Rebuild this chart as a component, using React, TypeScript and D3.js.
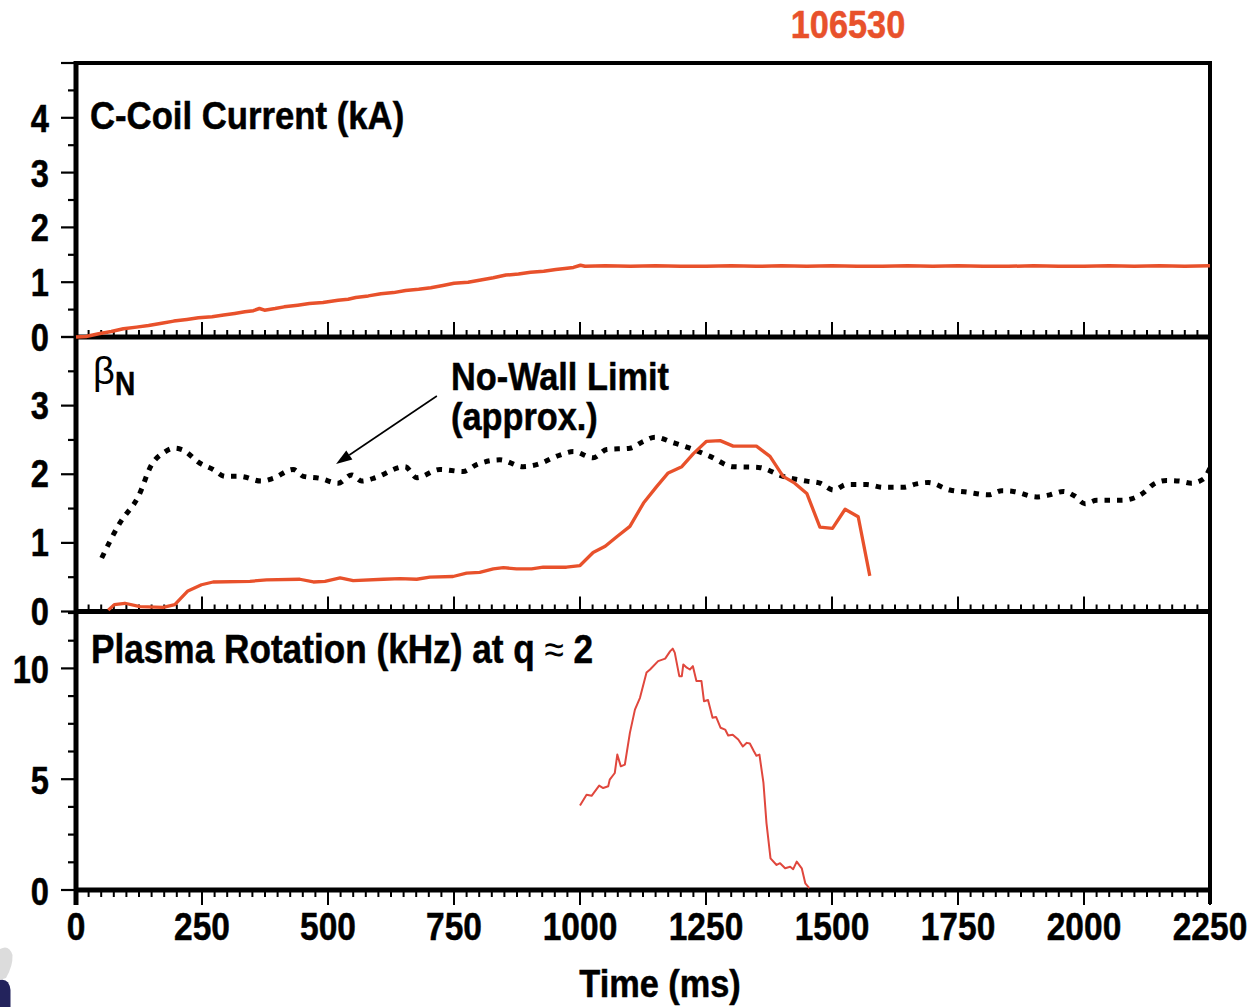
import React from 'react';
import * as d3 from 'd3';

// ---------------- data ----------------
const shotNumber = '106530';
const xTickValues = [0, 250, 500, 750, 1000, 1250, 1500, 1750, 2000, 2250];
const coilTickLabels = [0, 1, 2, 3, 4];
const betaTickLabels = [0, 1, 2, 3];
const rotTickLabels = [0, 5, 10];

// C-coil current (kA) vs time (ms)
const coilData: [number, number][] = [
  [0, 0.0], [20, 0.01], [45, 0.06], [70, 0.1], [94, 0.15], [120, 0.18], [144, 0.21], [170, 0.25],
  [194, 0.29], [220, 0.32], [243, 0.35], [270, 0.37], [293, 0.4], [315, 0.43], [335, 0.46], [352, 0.48],
  [364, 0.52], [374, 0.49], [395, 0.52], [413, 0.55], [440, 0.58], [463, 0.61], [490, 0.63], [520, 0.67],
  [540, 0.69], [555, 0.72], [580, 0.75], [605, 0.79], [630, 0.81], [654, 0.85], [680, 0.87], [704, 0.9],
  [728, 0.94], [750, 0.98], [778, 1.0], [803, 1.04], [828, 1.08], [853, 1.13], [878, 1.15], [902, 1.18],
  [928, 1.2], [952, 1.23], [970, 1.25], [987, 1.27], [1001, 1.31], [1010, 1.29], [1050, 1.3], [1100, 1.29],
  [1150, 1.3], [1200, 1.29], [1250, 1.29], [1300, 1.3], [1350, 1.29], [1400, 1.3], [1450, 1.29], [1500, 1.3],
  [1550, 1.29], [1600, 1.29], [1650, 1.3], [1700, 1.29], [1750, 1.3], [1800, 1.29], [1850, 1.29], [1900, 1.3],
  [1950, 1.29], [2000, 1.29], [2050, 1.3], [2100, 1.29], [2150, 1.3], [2200, 1.29], [2250, 1.3],
];

// beta_N measured
const betaNData: [number, number][] = [
  [64, 0.02], [76, 0.1], [97, 0.12], [127, 0.07], [173, 0.06], [196, 0.1], [222, 0.3], [249, 0.39],
  [272, 0.43], [345, 0.44], [378, 0.46], [444, 0.47], [471, 0.43], [494, 0.44], [524, 0.49], [550, 0.45],
  [610, 0.47], [643, 0.48], [676, 0.47], [702, 0.5], [748, 0.51], [775, 0.56], [801, 0.57], [828, 0.62],
  [848, 0.64], [874, 0.62], [904, 0.62], [927, 0.645], [973, 0.645], [1000, 0.67], [1026, 0.86], [1050, 0.95],
  [1073, 1.09], [1099, 1.24], [1126, 1.58], [1152, 1.82], [1175, 2.02], [1202, 2.11], [1225, 2.3], [1251, 2.48],
  [1278, 2.49], [1304, 2.41], [1350, 2.41], [1377, 2.26], [1403, 1.97], [1426, 1.87], [1450, 1.72], [1476, 1.23],
  [1501, 1.21], [1526, 1.49], [1552, 1.38], [1575, 0.52],
];

// No-wall limit (approx.)
const noWallData: [number, number][] = [
  [51, 0.78], [87, 1.29], [124, 1.68], [150, 2.14], [175, 2.32], [195, 2.38], [210, 2.36], [246, 2.16],
  [272, 2.07], [296, 1.97], [325, 1.97], [368, 1.9], [391, 1.94], [431, 2.07], [451, 1.97], [484, 1.94],
  [520, 1.87], [547, 1.99], [567, 1.9], [590, 1.94], [653, 2.11], [676, 1.95], [722, 2.07], [768, 2.04],
  [795, 2.14], [841, 2.21], [887, 2.11], [914, 2.14], [960, 2.28], [987, 2.33], [1026, 2.24], [1053, 2.36],
  [1099, 2.38], [1126, 2.48], [1149, 2.54], [1185, 2.46], [1218, 2.38], [1258, 2.26], [1304, 2.11], [1354, 2.1],
  [1403, 1.97], [1450, 1.9], [1476, 1.87], [1503, 1.77], [1529, 1.85], [1569, 1.85], [1602, 1.81], [1641, 1.81],
  [1668, 1.86], [1691, 1.88], [1734, 1.77], [1767, 1.74], [1810, 1.7], [1837, 1.76], [1860, 1.75], [1906, 1.67],
  [1932, 1.7], [1959, 1.75], [1982, 1.68], [2002, 1.57], [2025, 1.62], [2075, 1.62], [2098, 1.65], [2118, 1.73],
  [2137, 1.85], [2164, 1.91], [2190, 1.9], [2213, 1.87], [2237, 1.93], [2250, 2.09],
];

// Plasma rotation (kHz) at q ~ 2
const rotationData: [number, number][] = [
  [1000, 3.81], [1013, 4.3], [1023, 4.25], [1038, 4.71], [1046, 4.6], [1056, 4.68], [1059, 4.98], [1069, 5.28],
  [1074, 6.11], [1081, 5.58], [1089, 5.66], [1099, 7.09], [1109, 8.14], [1119, 8.67], [1132, 9.81], [1139, 9.95],
  [1155, 10.33], [1169, 10.44], [1179, 10.78], [1184, 10.89], [1188, 10.71], [1197, 9.65], [1202, 9.65], [1205, 10.18],
  [1212, 10.03], [1218, 9.95], [1224, 10.1], [1231, 9.43], [1241, 9.43], [1246, 8.52], [1254, 8.57], [1263, 7.77],
  [1270, 7.81], [1279, 7.32], [1288, 7.24], [1294, 6.97], [1303, 7.01], [1314, 6.79], [1323, 6.48], [1331, 6.64],
  [1337, 6.61], [1345, 6.26], [1350, 6.06], [1356, 6.11], [1364, 4.83], [1370, 3.02], [1378, 1.43], [1390, 1.13],
  [1397, 1.21], [1407, 0.98], [1417, 1.05], [1423, 0.94], [1430, 1.28], [1440, 0.98], [1447, 0.3], [1455, 0.08],
];

// arrow annotation (data coords in beta panel): from label to the no-wall curve
const arrowFrom: [number, number] = [716, 3.14];
const arrowTo: [number, number] = [516, 2.15];

// ---------------- layout ----------------
const W = 1253;
const H = 1007;
const FONT = "'Liberation Sans', Arial, Helvetica, sans-serif";
const ORANGE = '#e8512b';
const ROT_RED = '#e0473d';

const x = d3.scaleLinear().domain([0, 2250]).range([76, 1210]);
const y1 = d3.scaleLinear().domain([0, 5]).range([337, 63]);
const y2 = d3.scaleLinear().domain([0, 4]).range([611.5, 337]);
const y3 = d3.scaleLinear().domain([0, 12.5]).range([890, 613]);

type TProps = {
  x: number; y: number; anchor?: string; size?: number; sx?: number;
  weight?: string; fill?: string; children: React.ReactNode;
};
function T({ x: tx, y: ty, anchor = 'start', size = 39, sx = 0.88, weight = 'bold', fill = '#000', children }: TProps) {
  return (
    <text
      transform={`translate(${tx},${ty}) scale(${sx},1)`}
      textAnchor={anchor as any}
      fontSize={size}
      fontWeight={weight}
      fill={fill}
      stroke={fill}
      strokeWidth={0.5}
      fontFamily={FONT}
    >
      {children}
    </text>
  );
}

function LeftTicks({ scale, majors, minors }: { scale: d3.ScaleLinear<number, number>; majors: number[]; minors: number[] }) {
  return (
    <g stroke="#000" strokeWidth={2.2}>
      {majors.map((v) => (
        <line key={'M' + v} x1={61} x2={76} y1={scale(v)} y2={scale(v)} />
      ))}
      {minors.map((v) => (
        <line key={'m' + v} x1={68} x2={76} y1={scale(v)} y2={scale(v)} />
      ))}
    </g>
  );
}

function BottomTicks({ y0, dir }: { y0: number; dir: number }) {
  const minor = d3.range(0, 2251, 25).filter((v) => v % 250 !== 0);
  return (
    <g stroke="#000" strokeWidth={2}>
      {xTickValues.map((v) => (
        <line key={'M' + v} x1={x(v)} x2={x(v)} y1={y0} y2={y0 + dir * 15} />
      ))}
      {minor.map((v) => (
        <line key={'m' + v} x1={x(v)} x2={x(v)} y1={y0} y2={y0 + dir * 7} />
      ))}
    </g>
  );
}

export default function App() {
  const line = (ys: d3.ScaleLinear<number, number>, curve = d3.curveLinear) =>
    d3.line<[number, number]>().x((d) => x(d[0])).y((d) => ys(d[1])).curve(curve);

  const coilPath = line(y1)(coilData) || '';
  const betaPath = line(y2)(betaNData) || '';
  const noWallPath = line(y2, d3.curveMonotoneX)(noWallData) || '';
  const rotPath = line(y3)(rotationData) || '';

  // arrow geometry
  const ax0 = x(arrowFrom[0]);
  const ay0 = y2(arrowFrom[1]);
  const ax1 = x(arrowTo[0]);
  const ay1 = y2(arrowTo[1]);
  const len = Math.hypot(ax1 - ax0, ay1 - ay0);
  const ux = (ax1 - ax0) / len;
  const uy = (ay1 - ay0) / len;
  const headL = 16;
  const headW = 5.5;
  const bx = ax1 - ux * headL;
  const by = ay1 - uy * headL;
  const head = `M${ax1},${ay1} L${bx - uy * headW},${by + ux * headW} L${bx + uy * headW},${by - ux * headW} Z`;

  const coilMinors = d3.range(0.5, 5, 1);
  const coilMajors = d3.range(0, 6, 1);
  const betaMinors = d3.range(0.5, 4, 1);
  const betaMajors = d3.range(0, 5, 1);
  const rotMinors = [1.25, 2.5, 3.75, 6.25, 7.5, 8.75, 11.25, 12.5];
  const rotMajors = [0, 5, 10];

  return (
    <svg
      width={W}
      height={H}
      viewBox={`0 0 ${W} ${H}`}
      style={{ position: 'absolute', left: 0, top: 0, background: '#fff' }}
    >
      <rect x={0} y={0} width={W} height={H} fill="#fff" />

      {/* shot number */}
      <T x={848} y={38} anchor="middle" size={39} fill={ORANGE}>{shotNumber}</T>

      {/* ticks */}
      <LeftTicks scale={y1} majors={coilMajors} minors={coilMinors} />
      <LeftTicks scale={y2} majors={betaMajors} minors={betaMinors} />
      <LeftTicks scale={y3} majors={rotMajors} minors={rotMinors} />
      <BottomTicks y0={y1(0)} dir={-1} />
      <BottomTicks y0={y2(0)} dir={-1} />
      <BottomTicks y0={y3(0)} dir={1} />

      {/* frame */}
      <g stroke="#000" fill="none">
        <line x1={76} x2={1212} y1={63} y2={63} strokeWidth={4} />
        <line x1={1210} x2={1210} y1={61} y2={y3(0) + 14} strokeWidth={4} />
        <line x1={76} x2={76} y1={61} y2={y3(0) + 15} strokeWidth={5} />
        <line x1={74} x2={1212} y1={y1(0)} y2={y1(0)} strokeWidth={5} />
        <line x1={74} x2={1212} y1={y2(0)} y2={y2(0)} strokeWidth={5} />
        <line x1={74} x2={1212} y1={y3(0)} y2={y3(0)} strokeWidth={5} />
      </g>

      {/* y tick labels */}
      {coilTickLabels.map((v) => (
        <T key={'c' + v} x={49} y={y1(v) + 14} anchor="end" size={38} sx={0.86}>{v}</T>
      ))}
      {betaTickLabels.map((v) => (
        <T key={'b' + v} x={49} y={y2(v) + 13} anchor="end" size={38} sx={0.86}>{v}</T>
      ))}
      {rotTickLabels.map((v) => (
        <T key={'r' + v} x={49} y={y3(v) + 15} anchor="end" size={38} sx={0.86}>{v}</T>
      ))}

      {/* x tick labels */}
      {xTickValues.map((v) => (
        <T key={'x' + v} x={x(v)} y={940} anchor="middle" size={39} sx={0.86}>{v}</T>
      ))}
      <T x={660} y={997} anchor="middle" size={39}>Time (ms)</T>

      {/* panel titles */}
      <T x={90} y={129} size={39} sx={0.89}>C-Coil Current (kA)</T>
      <text x={93} y={384} fontSize={38} fontFamily={FONT} fill="#000">β</text>
      <T x={115} y={395} size={33} sx={0.85}>N</T>
      <T x={451} y={390} size={39} sx={0.88}>No-Wall Limit</T>
      <T x={451} y={430} size={39} sx={0.88}>(approx.)</T>
      <T x={91} y={663} size={40} sx={0.88}>
        Plasma Rotation (kHz) at q <tspan fontWeight="normal" strokeWidth={0}>≈</tspan> 2
      </T>

      {/* arrow */}
      <line x1={ax0} y1={ay0} x2={bx} y2={by} stroke="#000" strokeWidth={1.6} />
      <path d={head} fill="#000" />

      {/* data */}
      <path d={coilPath} fill="none" stroke={ORANGE} strokeWidth={3.5} strokeLinejoin="round" />
      <path d={noWallPath} fill="none" stroke="#000" strokeWidth={5} strokeDasharray="5.5 7" />
      <path d={betaPath} fill="none" stroke={ORANGE} strokeWidth={3.3} strokeLinejoin="round" />
      <path d={rotPath} fill="none" stroke={ROT_RED} strokeWidth={2} strokeLinejoin="round" />

      {/* logo fragment at lower-left */}
      <path d="M0,949 Q9,944 12.5,955 Q13,966 6,978 L0,980 Z" fill="#dcdcdc" />
      <path d="M0,980 Q9,978 10.5,990 L10.5,1007 L0,1007 Z" fill="#23235c" />
    </svg>
  );
}
